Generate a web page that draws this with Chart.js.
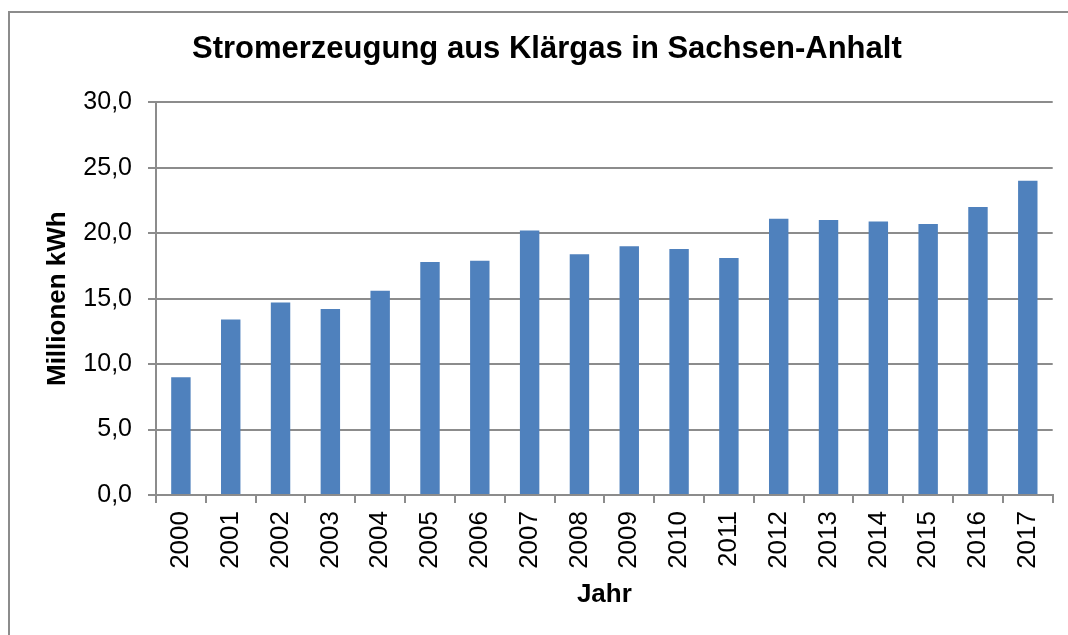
<!DOCTYPE html>
<html><head><meta charset="utf-8">
<script src="https://cdn.jsdelivr.net/npm/chart.js@4"></script>
<style>
html,body{margin:0;padding:0;background:#fff;width:1068px;height:635px;overflow:hidden;}
#frame{position:absolute;left:8px;top:11px;width:1100px;height:700px;border:2px solid #8c8c8c;box-sizing:border-box;}
#wrap{position:absolute;left:0;top:0;width:1068px;height:635px;}
</style></head><body>
<div id="frame"></div>
<div id="wrap"><canvas id="c" width="1068" height="635"></canvas></div>
<script>
const years = ['2000','2001','2002','2003','2004','2005','2006','2007','2008','2009','2010','2011','2012','2013','2014','2015','2016','2017'];
const values = [9.0, 13.4, 14.7, 14.2, 15.6, 17.8, 17.9, 20.2, 18.4, 19.0, 18.8, 18.1, 21.1, 21.0, 20.9, 20.7, 22.0, 24.0];
const yTickLabels = ['0,0','5,0','10,0','15,0','20,0','25,0','30,0'];
const titleText = 'Stromerzeugung aus Klärgas in Sachsen-Anhalt';
const xTitle = 'Jahr';
const yTitle = 'Millionen kWh';

const FONT = "'Liberation Sans', Arial, sans-serif";
const GRID = '#8c8c8c';

new Chart(document.getElementById('c'), {
  type: 'bar',
  data: {
    labels: years,
    datasets: [{
      data: values,
      backgroundColor: '#4F81BD',
      borderWidth: 0,
      barPercentage: 0.39,
      categoryPercentage: 1.0
    }]
  },
  options: {
    responsive: false,
    animation: false,
    devicePixelRatio: 1,
    layout: { padding: { left: 41, right: 15.3, top: 0, bottom: 0 } },
    plugins: {
      legend: { display: false },
      tooltip: { enabled: false },
      title: {
        display: true,
        text: titleText,
        color: '#000',
        font: { family: FONT, size: 31, weight: 'bold', lineHeight: 1.2 },
        padding: { top: 30.4, bottom: 34.7 }
      }
    },
    scales: {
      x: {
        grid: { display: true, drawOnChartArea: false, drawTicks: true, tickLength: 8, color: GRID, lineWidth: 2 },
        border: { display: true, color: GRID, width: 2 },
        ticks: {
          color: '#000',
          font: { family: FONT, size: 26 },
          minRotation: 90, maxRotation: 90,
          padding: 8,
          autoSkip: false
        },
        title: {
          display: true, text: xTitle, color: '#000',
          font: { family: FONT, size: 26, weight: 'bold', lineHeight: 1.2 },
          padding: { top: 0, bottom: 25 }
        },
        afterFit: (s) => { s.height = 140; }
      },
      y: {
        min: 0, max: 30,
        ticks: {
          stepSize: 5,
          color: '#000',
          font: { family: FONT, size: 25 },
          padding: 16,
          callback: (v, i) => yTickLabels[i]
        },
        grid: { color: GRID, lineWidth: 2, tickLength: 8, drawTicks: true },
        border: { display: true, color: GRID, width: 2 },
        title: {
          display: true, text: yTitle, color: '#000',
          font: { family: FONT, size: 26, weight: 'bold', lineHeight: 1.2 },
          padding: { top: 1.4, bottom: 0 }
        },
        afterFit: (s) => { s.width = 115; }
      }
    }
  }
});
</script>
</body></html>
